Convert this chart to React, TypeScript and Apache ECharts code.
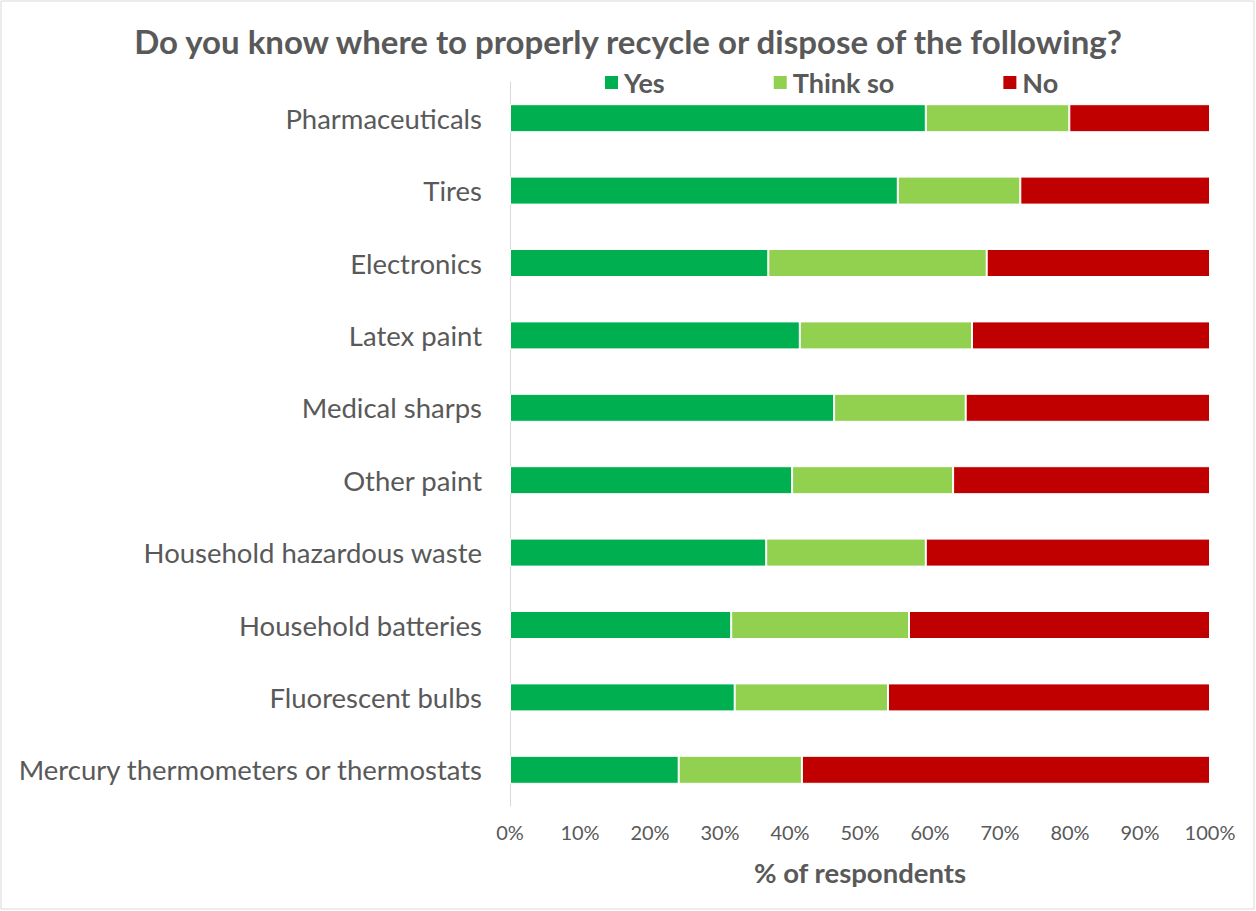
import React, { useEffect, useRef } from "react";
import * as echarts from "echarts";

const categories = [
  "Pharmaceuticals",
  "Tires",
  "Electronics",
  "Latex paint",
  "Medical sharps",
  "Other paint",
  "Household hazardous waste",
  "Household batteries",
  "Fluorescent bulbs",
  "Mercury thermometers or thermostats",
];
const yesValues = [59.4, 55.4, 36.9, 41.4, 46.3, 40.3, 36.6, 31.6, 32.1, 24.1];
const thinkSoValues = [20.5, 17.5, 31.2, 24.6, 18.8, 23.0, 22.8, 25.4, 21.9, 17.6];
const noValues = [20.1, 27.1, 31.9, 34.0, 34.9, 36.7, 40.6, 43.0, 46.0, 58.3];
const xTicks = [0, 10, 20, 30, 40, 50, 60, 70, 80, 90, 100];

const FONT = "Lato";
const TEXT = "#595959";

export default function App() {
  const ref = useRef<HTMLDivElement>(null);
  useEffect(() => {
    if (!ref.current) return;
    const chart = echarts.init(ref.current, undefined, { renderer: "svg" });
    const mk = (name: string, data: number[], color: string) => ({
      name,
      type: "bar",
      stack: "total",
      data,
      barWidth: 28,
      itemStyle: { color, borderColor: "#ffffff", borderWidth: 1 },
    });
    chart.setOption({
      animation: false,
      textStyle: { fontFamily: FONT },
      title: {
        text: "Do you know where to properly recycle or dispose of the following?",
        left: "center",
        top: 19,
        textStyle: { fontFamily: FONT, fontSize: 33, fontWeight: "bold", color: TEXT },
      },
      legend: {
        left: 598,
        top: 64,
        icon: "rect",
        itemWidth: 15,
        itemHeight: 15,
        itemGap: 107,
        textStyle: { fontFamily: FONT, fontSize: 27, fontWeight: "bold", color: TEXT },
        data: ["Yes", "Think so", "No"],
      },
      grid: { left: 510, right: 46, top: 82, bottom: 105, containLabel: false },
      xAxis: {
        type: "value",
        min: xTicks[0],
        max: xTicks[xTicks.length - 1],
        interval: 10,
        axisLine: { show: false },
        axisTick: { show: false },
        splitLine: { show: false },
        axisLabel: {
          formatter: "{value}%",
          fontFamily: FONT,
          fontSize: 20,
          color: TEXT,
          margin: 16,
        },
        name: "% of respondents",
        nameLocation: "middle",
        nameGap: 52,
        nameTextStyle: { fontFamily: FONT, fontSize: 27.5, fontWeight: "bold", color: TEXT },
      },
      yAxis: {
        type: "category",
        inverse: true,
        data: categories,
        axisLine: { show: true, lineStyle: { color: "#d9d9d9", width: 1 } },
        axisTick: { show: false },
        axisLabel: { fontFamily: FONT, fontSize: 27.5, color: TEXT, margin: 28 },
      },
      graphic: [
        {
          type: "rect",
          shape: { x: 1, y: 1, width: 1253, height: 908 },
          style: { fill: "none", stroke: "#d9d9d9", lineWidth: 1 },
          silent: true,
        },
      ],
      series: [
        mk("Yes", yesValues, "#00B050"),
        mk("Think so", thinkSoValues, "#92D050"),
        mk("No", noValues, "#C00000"),
      ],
    });
    return () => chart.dispose();
  }, []);
  return (
    <div
      ref={ref}
      style={{ position: "fixed", left: 0, top: 0, width: 1256, height: 911, background: "#fff" }}
    />
  );
}
